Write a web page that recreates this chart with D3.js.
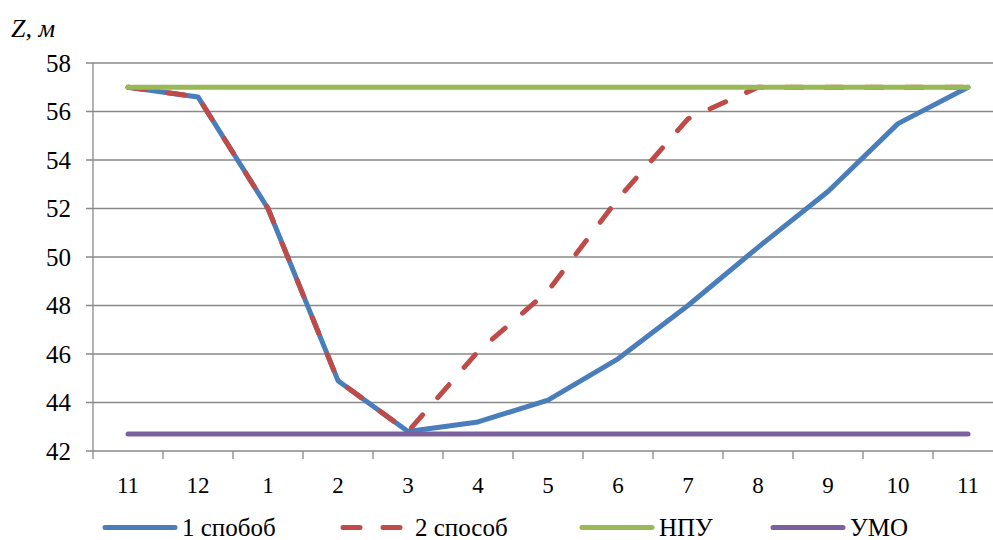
<!DOCTYPE html>
<html>
<head>
<meta charset="utf-8">
<script src="https://cdn.jsdelivr.net/npm/d3@7"></script>
</head>
<body style="margin:0">
<svg id="chart" width="993" height="540" style="display:block" font-family="Liberation Serif"></svg>
<script>
const months = ['11', '12', '1', '2', '3', '4', '5', '6', '7', '8', '9', '10', '11'];
const method1 = [57.0, 56.6, 52.0, 44.9, 42.8, 43.2, 44.1, 45.8, 48.0, 50.4, 52.7, 55.5, 57.0];
const method2 = [57.0, 56.6, 52.0, 44.9, 42.8, 46.1, 48.6, 52.4, 55.7, 57.0, 57.0, 57.0, 57.0];
const npu = [57, 57, 57, 57, 57, 57, 57, 57, 57, 57, 57, 57, 57];
const umo = [42.7, 42.7, 42.7, 42.7, 42.7, 42.7, 42.7, 42.7, 42.7, 42.7, 42.7, 42.7, 42.7];
const yTicks = [42, 44, 46, 48, 50, 52, 54, 56, 58];

const series = [
	{ name: '1 спобоб', values: method1, color: '#4a7ebb', dash: null },
	{ name: '2 способ', values: method2, color: '#be4b48', dash: '17,23' },
	{ name: 'НПУ', values: npu, color: '#98b954', dash: null },
	{ name: 'УМО', values: umo, color: '#7d60a0', dash: null }
];

const svg = d3.select('#chart');
const gridColor = '#898989';
const serifFont = '"Liberation Serif", "Tinos", "Times New Roman", monospace';

const x = d3.scaleBand()
	.domain(d3.range(months.length))
	.range([93, 93 + months.length * 70]);

const y = d3.scaleLinear()
	.domain([42, 58])
	.range([451, 63]);

// gridlines
svg.append('g')
	.selectAll('line')
	.data(yTicks)
	.join('line')
		.attr('x1', 86)
		.attr('x2', x.range()[1])
		.attr('y1', d => y(d))
		.attr('y2', d => y(d))
		.attr('stroke', gridColor)
		.attr('stroke-width', 1.3);

// y axis
svg.append('line')
	.attr('x1', 93).attr('x2', 93)
	.attr('y1', y(58)).attr('y2', y(42))
	.attr('stroke', gridColor)
	.attr('stroke-width', 1.3);

svg.append('g')
	.selectAll('text')
	.data(yTicks)
	.join('text')
		.attr('x', 71)
		.attr('y', d => y(d))
		.attr('dy', '0.34em')
		.attr('text-anchor', 'end')
		.attr('font-size', 25)
		.style('font-family', serifFont)
		.text(d => d);

// x axis ticks between categories
svg.append('g')
	.selectAll('line')
	.data(d3.range(months.length + 1))
	.join('line')
		.attr('x1', i => i < months.length ? x(i) : x.range()[1])
		.attr('x2', i => i < months.length ? x(i) : x.range()[1])
		.attr('y1', y(42))
		.attr('y2', y(42) + 8)
		.attr('stroke', gridColor)
		.attr('stroke-width', 1.3);

// category labels
svg.append('g')
	.selectAll('text')
	.data(months)
	.join('text')
		.attr('x', (d, i) => x(i) + x.bandwidth() / 2)
		.attr('y', y(42) + 42)
		.attr('text-anchor', 'middle')
		.attr('font-size', 23)
		.style('font-family', serifFont)
		.text(d => d);

// lines
const line = d3.line()
	.x((d, i) => x(i) + x.bandwidth() / 2)
	.y(d => y(d));

svg.append('g')
	.selectAll('path')
	.data(series)
	.join('path')
		.attr('d', d => line(d.values))
		.attr('fill', 'none')
		.attr('stroke', d => d.color)
		.attr('stroke-width', 5)
		.attr('stroke-linecap', 'round')
		.attr('stroke-linejoin', 'round')
		.attr('stroke-dasharray', d => d.dash);

// axis title
svg.append('text')
	.attr('x', 11)
	.attr('y', 37)
	.attr('font-size', 26)
	.attr('font-style', 'italic')
	.style('font-family', serifFont)
	.text('Z, м');

// legend
const legendX = [105, 343, 582, 773];
const legend = svg.append('g')
	.selectAll('g')
	.data(series)
	.join('g')
		.attr('transform', (d, i) => 'translate(' + legendX[i] + ',527.5)');

legend.append('line')
	.attr('x1', 0)
	.attr('x2', 70)
	.attr('stroke', d => d.color)
	.attr('stroke-width', 5)
	.attr('stroke-linecap', 'round')
	.attr('stroke-dasharray', d => d.dash);

legend.append('text')
	.attr('x', (d, i) => i === 1 ? 72 : 77)
	.attr('dy', '0.34em')
	.attr('font-size', 25)
	.style('font-family', serifFont)
	.text(d => d.name);
</script>
</body>
</html>
